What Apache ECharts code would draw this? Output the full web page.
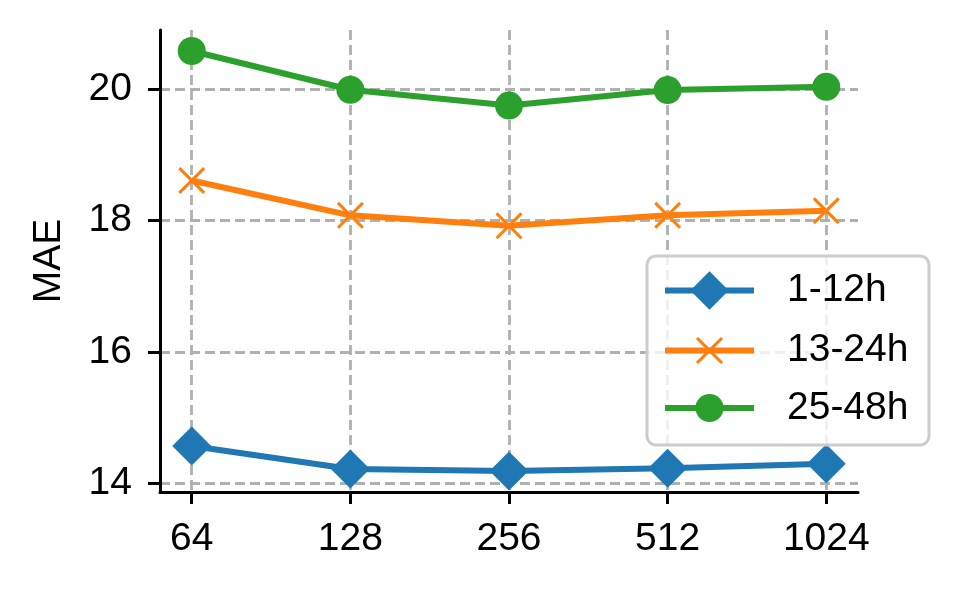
<!DOCTYPE html>
<html>
<head>
<meta charset="utf-8">
<script src="https://cdn.jsdelivr.net/npm/echarts@6/dist/echarts.min.js"></script>
<style>
html,body{margin:0;padding:0;background:#fff;}
#chart{width:957px;height:589px;}
</style>
</head>
<body>
<div id="chart"></div>
<script>
const categories = ['64', '128', '256', '512', '1024'];
const yTicks = [14, 16, 18, 20];
const seriesNames = ['1-12h', '13-24h', '25-48h'];
const mae_1_12h = [14.57, 14.22, 14.19, 14.23, 14.30];
const mae_13_24h = [18.61, 18.08, 17.92, 18.08, 18.15];
const mae_25_48h = [20.58, 19.99, 19.75, 19.985, 20.035];

const FONT = "'Liberation Sans', Arial, sans-serif";
const X_PATH = 'path://M0,8L8,0L50,42L92,0L100,8L58,50L100,92L92,100L50,58L8,100L0,92L42,50Z';
const xIdx = categories.map((c, i) => i);
const toPts = arr => arr.map((v, i) => [i, v]);

const chart = echarts.init(document.getElementById('chart'), null, {renderer: 'canvas'});

const legendBase = (name, itemHeight, top) => ({
  data: [name],
  orient: 'vertical',
  left: 662,
  top: top,
  padding: 0,
  itemWidth: 89,
  itemHeight: itemHeight,
  selectedMode: false,
  z: 20,
  lineStyle: {width: 6},
  textStyle: {fontSize: 39, color: '#000', fontFamily: FONT, padding: [0, 0, 0, 28]}
});

chart.setOption({
  animation: false,
  backgroundColor: '#fff',
  grid: {left: 160, right: 99, top: 30, bottom: 97, containLabel: false},
  xAxis: {
    type: 'value',
    min: -0.2,
    max: 4.2,
    axisLine: {show: true, onZero: false, lineStyle: {color: '#000', width: 3}},
    axisTick: {show: true, length: 12, lineStyle: {color: '#000', width: 3}, customValues: xIdx},
    axisLabel: {show: true, fontSize: 39, color: '#000', fontFamily: FONT, margin: 28,
      customValues: xIdx, formatter: v => categories[Math.round(v)]},
    splitLine: {show: true, lineStyle: {color: '#b0b0b0', width: 2.8, type: [10, 5]}}
  },
  yAxis: {
    type: 'value',
    min: v => v.min - 0.05 * (v.max - v.min),
    max: v => v.max + 0.05 * (v.max - v.min),
    name: 'MAE',
    nameLocation: 'middle',
    nameGap: 91,
    nameRotate: 90,
    nameTextStyle: {fontSize: 39, color: '#000', fontFamily: FONT},
    axisLine: {show: true, onZero: false, lineStyle: {color: '#000', width: 3}},
    axisTick: {show: true, length: 12, lineStyle: {color: '#000', width: 3}, customValues: yTicks},
    axisLabel: {show: true, fontSize: 39, color: '#000', fontFamily: FONT, margin: 28, customValues: yTicks},
    splitLine: {show: true, lineStyle: {color: '#b0b0b0', width: 2.8, type: [10, 5]}}
  },
  legend: [
    legendBase(seriesNames[0], 48, 271),
    legendBase(seriesNames[1], 34, 331),
    legendBase(seriesNames[2], 35, 388.5)
  ],
  graphic: [{
    type: 'rect',
    z: 15,
    shape: {x: 647, y: 256, width: 282, height: 189, r: 9},
    style: {fill: 'rgba(255,255,255,0.8)', stroke: '#cccccc', lineWidth: 3}
  }],
  series: [
    {name: seriesNames[0], type: 'line', data: toPts(mae_1_12h), color: '#1f77b4',
      symbol: 'diamond', symbolSize: 39, lineStyle: {width: 6}, itemStyle: {color: '#1f77b4'}},
    {name: seriesNames[1], type: 'line', data: toPts(mae_13_24h), color: '#ff7f0e',
      symbol: X_PATH, symbolSize: 27, lineStyle: {width: 6}, itemStyle: {color: '#ff7f0e'}},
    {name: seriesNames[2], type: 'line', data: toPts(mae_25_48h), color: '#2ca02c',
      symbol: 'circle', symbolSize: 28, lineStyle: {width: 6}, itemStyle: {color: '#2ca02c'}}
  ]
});
</script>
</body>
</html>
